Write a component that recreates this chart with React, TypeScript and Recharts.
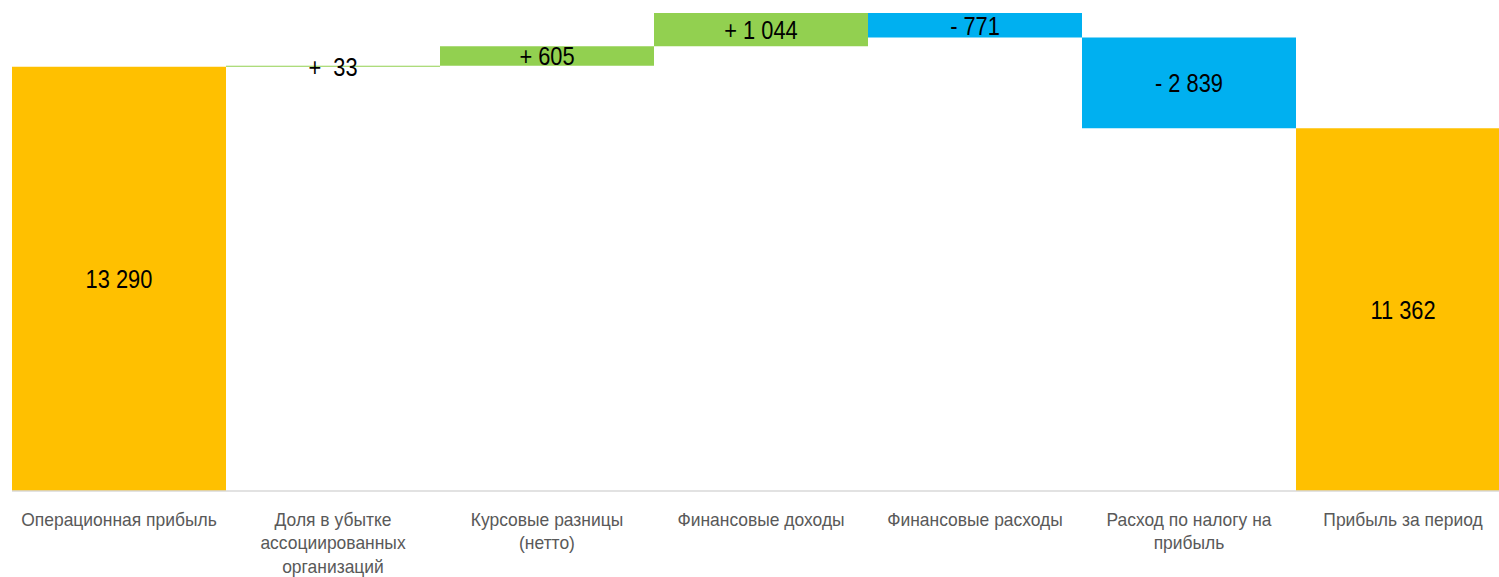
import { BarChart, Bar, XAxis, YAxis, Cell, LabelList } from 'recharts';

// Waterfall: Operating profit -> Profit for the period
const categories = [
  'Операционная прибыль',
  'Доля в убытке ассоциированных организаций',
  'Курсовые разницы (нетто)',
  'Финансовые доходы',
  'Финансовые расходы',
  'Расход по налогу на прибыль',
  'Прибыль за период',
];

// Tick labels as they wrap in the original
const tickLines = [
  ['Операционная прибыль'],
  ['Доля в убытке', 'ассоциированных', 'организаций'],
  ['Курсовые разницы', '(нетто)'],
  ['Финансовые доходы'],
  ['Финансовые расходы'],
  ['Расход по налогу на', 'прибыль'],
  ['Прибыль за период'],
];

const baseValues = [0, 13290, 13323, 13928, 14201, 11362, 0];
const deltaValues = [13290, 33, 605, 1044, 771, 2839, 11362];
const valueLabels = ['13 290', '+\u00A0 33', '+ 605', '+ 1 044', '- 771', '- 2 839', '11 362'];

const ORANGE = '#FFC000';
const GREEN = '#92D050';
const BLUE = '#00B0F0';
const barColors = [ORANGE, GREEN, GREEN, GREEN, BLUE, BLUE, ORANGE];

const FONT = '"Liberation Sans", Arial, sans-serif';

const chartData = categories.map((name, i) => ({
  name,
  base: baseValues[i],
  delta: deltaValues[i],
  label: valueLabels[i],
}));

// narrow-looking value label, centred in its bar
function ValueLabel(props: any) {
  const { x = 0, y = 0, width = 0, height = 0, value } = props;
  const cx = Number(x) + Number(width) / 2;
  const cy = Number(y) + Number(height) / 2;
  return (
    <g transform={`translate(${cx},${cy}) scale(0.84,1)`}>
      <text x={0} y={0} dy="0.36em" textAnchor="middle" fill="#000" fontSize={26} fontFamily={FONT}>
        {value}
      </text>
    </g>
  );
}

function CategoryTick({ x, y, payload }: { x?: number; y?: number; payload?: { index: number } }) {
  const lines = tickLines[payload?.index ?? 0] ?? [];
  return (
    <g transform={`translate(${x ?? 0},${y ?? 0}) scale(0.97,1)`}>
      <text x={0} y={0} textAnchor="middle" fill="#595959" fontSize={18} fontFamily={FONT}>
        {lines.map((line, i) => (
          <tspan key={i} x={0} dy={i === 0 ? 27 : 23.5}>
            {line}
          </tspan>
        ))}
      </text>
    </g>
  );
}

export default function App() {
  return (
    <div style={{ position: 'absolute', left: 0, top: 0, width: 1499, height: 577, overflow: 'hidden', background: '#fff' }}>
      <BarChart
        width={1510}
        height={577}
        data={chartData}
        margin={{ top: 13, right: 0, left: 12, bottom: 0 }}
        barCategoryGap={0}
        barGap={0}
      >
        <XAxis
          dataKey="name"
          height={86}
          axisLine={{ stroke: '#D9D9D9', strokeWidth: 1.5 }}
          tickLine={false}
          interval={0}
          tick={<CategoryTick />}
        />
        <YAxis hide domain={[0, 14972]} />
        <Bar dataKey="base" stackId="w" fill="transparent" isAnimationActive={false} />
        <Bar dataKey="delta" stackId="w" isAnimationActive={false}>
          {chartData.map((d, i) => (
            <Cell key={d.name} fill={barColors[i]} />
          ))}
          <LabelList dataKey="label" content={<ValueLabel />} />
        </Bar>
      </BarChart>
    </div>
  );
}
